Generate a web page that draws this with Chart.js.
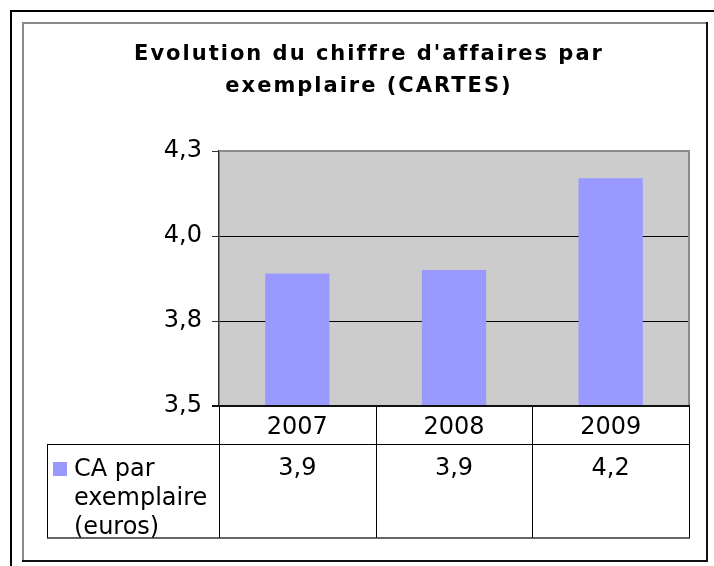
<!DOCTYPE html>
<html>
<head>
<meta charset="utf-8">
<script src="https://cdn.jsdelivr.net/npm/chart.js@4.4.1/dist/chart.umd.min.js"></script>
<style>
  html, body { margin: 0; padding: 0; background: #ffffff; }
  #wrap { width: 714px; height: 566px; }
</style>
</head>
<body>
<div id="wrap"><canvas id="c" width="714" height="566"></canvas></div>
<script>
// Chart content
const titleLines = ["Evolution du chiffre d'affaires par", "exemplaire (CARTES)"];
const years = ["2007", "2008", "2009"];
const caParExemplaire = [3.89, 3.90, 4.17];
const seriesLabelLines = ["CA par", "exemplaire", "(euros)"];
const yMin = 3.5;
const yMax = 4.25;
const yStep = 0.25;

const FONT = '"DejaVu Sans", Verdana, sans-serif';
const BAR_COLOR = '#9999ff';
const TEXT_SIZE = 24;

function fmt(v) {
  return v.toFixed(1).replace('.', ',');
}

// Frame, plot background, title and the data table under the plot
const decorPlugin = {
  id: 'decor',
  beforeDraw(chart) {
    const ctx = chart.ctx;
    const a = chart.chartArea;
    ctx.save();
    ctx.fillStyle = '#ffffff';
    ctx.fillRect(0, 0, chart.width, chart.height);

    // page frame
    ctx.strokeStyle = '#000000';
    ctx.lineWidth = 2;
    ctx.beginPath();
    ctx.moveTo(11, 566); ctx.lineTo(11, 11); ctx.lineTo(714, 11);
    ctx.stroke();

    // chart frame
    ctx.strokeStyle = '#8a8a8a';
    ctx.lineWidth = 2;
    ctx.beginPath();
    ctx.moveTo(23, 561); ctx.lineTo(23, 23); ctx.lineTo(707, 23);
    ctx.stroke();
    ctx.strokeStyle = '#111111';
    ctx.beginPath();
    ctx.moveTo(707, 22); ctx.lineTo(707, 561); ctx.lineTo(22, 561);
    ctx.stroke();

    // plot background
    ctx.fillStyle = '#cccccc';
    ctx.fillRect(a.left, a.top, a.right - a.left, a.bottom - a.top);
    ctx.restore();
  },
  afterDraw(chart) {
    const ctx = chart.ctx;
    const a = chart.chartArea;
    const xs = chart.scales.x;
    ctx.save();

    // plot borders
    ctx.lineWidth = 2;
    ctx.strokeStyle = '#8c8c8c';
    ctx.beginPath();
    ctx.moveTo(a.left, a.top); ctx.lineTo(a.right, a.top); ctx.lineTo(a.right, a.bottom);
    ctx.stroke();

    // title
    ctx.fillStyle = '#000000';
    ctx.font = 'bold 21px ' + FONT;
    ctx.textBaseline = 'alphabetic';
    ctx.textAlign = 'left';
    const ls = 2;
    if ('letterSpacing' in ctx) ctx.letterSpacing = ls + 'px';
    const titleBase = [60, 92];
    titleLines.forEach((t, i) => {
      const w = ctx.measureText(t).width - ls;
      ctx.fillText(t, 368 - w / 2, titleBase[i]);
    });
    if ('letterSpacing' in ctx) ctx.letterSpacing = '0px';

    // data table
    const n = years.length;
    const bounds = [];
    for (let i = 0; i <= n; i++) {
      bounds.push(a.left + (a.right - a.left) * i / n);
    }
    const rowTop = a.bottom, rowMid = 444, rowBot = 538, tableLeft = 47;

    ctx.strokeStyle = '#000000';
    ctx.lineWidth = 1;
    ctx.beginPath();
    bounds.forEach((x) => {
      const px = Math.round(x) + 0.5;
      ctx.moveTo(px, rowTop); ctx.lineTo(px, rowBot);
    });
    ctx.moveTo(tableLeft + 0.5, rowMid + 0.5); ctx.lineTo(bounds[n], rowMid + 0.5);
    ctx.moveTo(tableLeft + 0.5, rowMid); ctx.lineTo(tableLeft + 0.5, rowBot);
    ctx.stroke();
    ctx.strokeStyle = '#333333';
    ctx.lineWidth = 1.5;
    ctx.beginPath();
    ctx.moveTo(tableLeft, rowBot); ctx.lineTo(bounds[n] + 1, rowBot);
    ctx.stroke();

    // category axis line
    ctx.strokeStyle = '#111111';
    ctx.lineWidth = 2;
    ctx.beginPath();
    ctx.moveTo(a.left - 7, a.bottom); ctx.lineTo(a.right + 1, a.bottom);
    ctx.stroke();

    // year labels and values
    ctx.fillStyle = '#000000';
    ctx.font = TEXT_SIZE + 'px ' + FONT;
    ctx.textAlign = 'center';
    ctx.textBaseline = 'alphabetic';
    years.forEach((y, i) => {
      const cx = xs.getPixelForValue(i);
      ctx.fillText(xs.getLabelForValue(i), cx, 434);
      ctx.fillText(fmt(caParExemplaire[i]), cx, 475);
    });

    // series key
    ctx.fillStyle = BAR_COLOR;
    ctx.fillRect(53, 462, 14, 14);
    ctx.fillStyle = '#000000';
    ctx.textAlign = 'left';
    seriesLabelLines.forEach((t, i) => {
      ctx.fillText(t, 74, 476 + i * 29);
    });

    ctx.restore();
  }
};

new Chart(document.getElementById('c'), {
  type: 'bar',
  data: {
    labels: years,
    datasets: [{
      label: seriesLabelLines.join(' '),
      data: caParExemplaire,
      backgroundColor: BAR_COLOR,
      borderWidth: 0,
      categoryPercentage: 1,
      barPercentage: 0.41
    }]
  },
  options: {
    responsive: false,
    animation: false,
    devicePixelRatio: 1,
    layout: { padding: { left: 0, top: 151, right: 25, bottom: 160 } },
    plugins: {
      legend: { display: false },
      title: { display: false },
      tooltip: { enabled: false }
    },
    scales: {
      x: {
        display: false,
        offset: true
      },
      y: {
        min: yMin,
        max: yMax,
        afterFit(scale) { scale.width = 219; },
        afterBuildTicks(scale) {
          const t = [];
          for (let v = yMin; v <= yMax + 1e-9; v += yStep) t.push({ value: +v.toFixed(2) });
          scale.ticks = t;
        },
        border: { display: true, color: '#333333', width: 1.5 },
        grid: {
          color: (c) => (c.tick && (c.tick.value === yMin || c.tick.value === yMax)) ? 'rgba(0,0,0,0)' : '#000000',
          tickColor: '#333333',
          tickLength: 7,
          lineWidth: 1
        },
        ticks: {
          padding: 10,
          color: '#000000',
          font: { family: FONT, size: TEXT_SIZE },
          callback: (v) => fmt(v)
        }
      }
    }
  },
  plugins: [decorPlugin]
});
</script>
</body>
</html>
